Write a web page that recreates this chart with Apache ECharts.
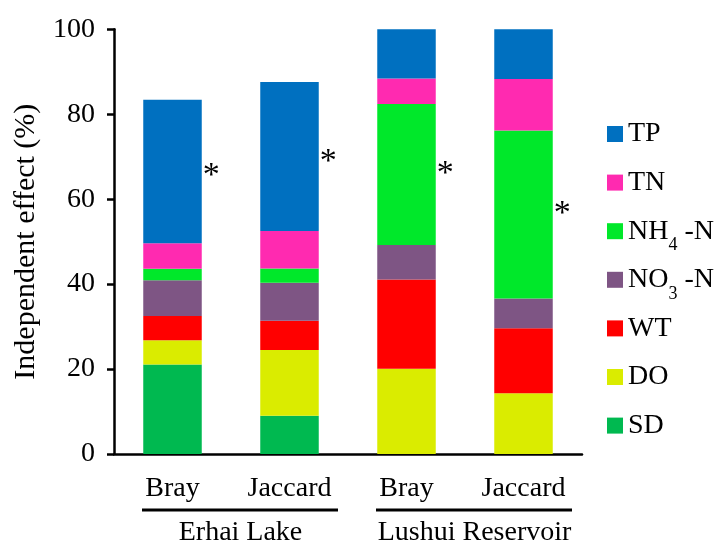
<!DOCTYPE html>
<html>
<head>
<meta charset="utf-8">
<script src="https://cdn.jsdelivr.net/npm/echarts@6/dist/echarts.min.js"></script>
<style>
  html, body { margin: 0; padding: 0; background: #fff; }
  #chart { width: 717px; height: 547px; }
</style>
</head>
<body>
<div id="chart"></div>
<script>
// Independent effect of each water-quality variable (%), per dissimilarity index and site
const categories = ['Bray', 'Jaccard', 'Bray', 'Jaccard'];
const groups = ['Erhai Lake', 'Lushui Reservoir'];
const yTicks = [0, 20, 40, 60, 80, 100];

const SD  = [21.1, 9.0, 0, 0];
const DO  = [5.7, 15.5, 20.1, 14.3];
const WT  = [5.7, 6.9, 21.0, 15.3];
const NO3 = [8.4, 8.9, 8.1, 7.0];
const NH4 = [2.7, 3.4, 33.2, 39.6];
const TN  = [6.0, 8.8, 6.0, 12.1];
const TP  = [33.8, 35.1, 11.6, 11.7];

// variable marked as significant (*) for each bar
const significant = ['TP', 'TP', 'NH4-N', 'NH4-N'];

const FONT = 'Liberation Serif';

const seriesDefs = [
  { name: 'SD',    data: SD,  color: '#00B950' },
  { name: 'DO',    data: DO,  color: '#DAEC00' },
  { name: 'WT',    data: WT,  color: '#FF0000' },
  { name: 'NO3-N', data: NO3, color: '#7E5584' },
  { name: 'NH4-N', data: NH4, color: '#00E82A' },
  { name: 'TN',    data: TN,  color: '#FF2AB0' },
  { name: 'TP',    data: TP,  color: '#0070C0' }
];

const legendText = {
  'TP': 'TP',
  'TN': 'TN',
  'NH4-N': 'NH{s|4} -N',
  'NO3-N': 'NO{s|3} -N',
  'WT': 'WT',
  'DO': 'DO',
  'SD': 'SD'
};

const starOffset = [[0, 5], [0, 6], [0, 0], [0, 0]];

const series = seriesDefs.map(def => ({
  name: def.name,
  type: 'bar',
  stack: 'total',
  barWidth: '50%',
  itemStyle: { color: def.color },
  emphasis: { disabled: true },
  data: def.data.map((v, i) => {
    if (significant[i] !== def.name) return v;
    return {
      value: v,
      label: {
        show: true,
        position: 'right',
        distance: 1,
        offset: starOffset[i],
        formatter: '*',
        fontFamily: FONT,
        fontSize: 34,
        color: '#000'
      }
    };
  })
}));

const chart = echarts.init(document.getElementById('chart'), null, { renderer: 'canvas' });

chart.setOption({
  animation: false,
  backgroundColor: '#fff',
  grid: { left: 114, right: 135, top: 29.3, bottom: 92, containLabel: false },
  legend: {
    orient: 'vertical',
    left: 602,
    top: 106,
    itemWidth: 16,
    itemHeight: 16,
    itemGap: 2.6,
    selectedMode: false,
    icon: 'rect',
    data: ['TP', 'TN', 'NH4-N', 'NO3-N', 'WT', 'DO', 'SD'],
    formatter: name => legendText[name],
    textStyle: {
      fontFamily: FONT,
      fontSize: 28,
      color: '#000',
      lineHeight: 46,
      rich: {
        s: { fontFamily: FONT, fontSize: 18, lineHeight: 20, verticalAlign: 'bottom', color: '#000' }
      }
    }
  },
  xAxis: [
    {
      type: 'category',
      data: categories,
      position: 'bottom',
      axisLine: { lineStyle: { color: '#000', width: 2.5 } },
      axisTick: { length: 10, lineStyle: { color: '#000', width: 2.5 } },
      axisLabel: { fontFamily: FONT, fontSize: 28, color: '#000', margin: 21, interval: 0 }
    },
    {
      type: 'category',
      data: groups,
      position: 'bottom',
      gridIndex: 0,
      axisLine: { show: false },
      axisTick: { show: false },
      axisLabel: {
        fontFamily: FONT, fontSize: 28, color: '#000', margin: 65, interval: 0,
        padding: [0, 0, 0, 19]
      }
    }
  ],
  yAxis: {
    type: 'value',
    min: 0,
    max: 100,
    interval: 20,
    name: 'Independent effect (%)',
    nameLocation: 'middle',
    nameGap: 73,
    nameTextStyle: { fontFamily: FONT, fontSize: 30, color: '#000' },
    axisLine: { show: true, lineStyle: { color: '#000', width: 2.5 } },
    axisTick: { show: true, length: 7, lineStyle: { color: '#000', width: 2.5 } },
    splitLine: { show: false },
    axisLabel: {
      fontFamily: FONT, fontSize: 28, color: '#000', margin: 19,
      customValues: yTicks
    }
  },
  series: series
});

// underline each site group, just above its name
const baseY = chart.convertToPixel({ yAxisIndex: 0 }, 0);
const lines = groups.map(g => {
  const c = chart.convertToPixel({ xAxisIndex: 1 }, g);
  return {
    type: 'line',
    shape: { x1: c - 89, y1: baseY + 56, x2: c + 107, y2: baseY + 56 },
    style: { stroke: '#000', lineWidth: 3 },
    silent: true
  };
});
chart.setOption({ graphic: lines });
</script>
</body>
</html>
